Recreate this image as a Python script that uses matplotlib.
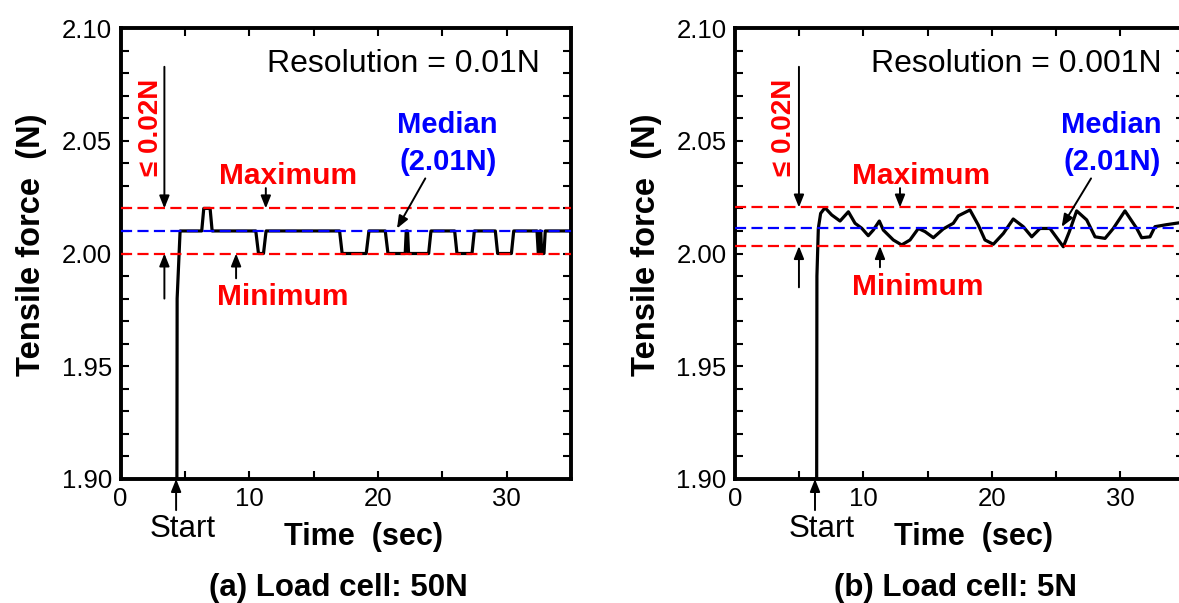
import matplotlib.pyplot as plt
from matplotlib.ticker import MultipleLocator, FormatStrFormatter

plt.rcParams['font.family'] = ['Liberation Sans', 'DejaVu Sans']

# (a) Load cell 50N, resolution 0.01N -> stepwise readout
time_a = [4.37, 4.40, 4.63, 6.31, 6.47, 6.96, 7.12, 10.51, 10.72, 11.11, 11.31,
          17.02, 17.22, 19.09, 19.30, 20.57, 20.78, 22.12, 22.20, 22.30, 22.38,
          23.94, 24.12, 25.96, 26.14, 27.31, 27.49, 29.12, 29.30, 30.37, 30.55,
          32.36, 32.46, 32.55, 32.60, 32.65, 32.72, 32.90, 33.00, 35.0]
force_a = [1.85, 1.98, 2.01, 2.01, 2.02, 2.02, 2.01, 2.01, 2.00, 2.00, 2.01,
           2.01, 2.00, 2.00, 2.01, 2.01, 2.00, 2.00, 2.01, 2.01, 2.00,
           2.00, 2.01, 2.01, 2.00, 2.00, 2.01, 2.01, 2.00, 2.00, 2.01,
           2.01, 2.00, 2.00, 2.01, 2.01, 2.00, 2.00, 2.01, 2.01]
max_a, median_a, min_a = 2.02, 2.01, 2.00

# (b) Load cell 5N, resolution 0.001N -> smooth-ish readout
time_b = [6.35, 6.38, 6.49, 6.67, 7.01, 7.53, 8.18, 8.83, 9.35, 9.87, 10.38,
          10.77, 11.24, 11.55, 12.33, 12.98, 13.63, 14.28, 14.80, 15.45, 16.22,
          17.00, 17.39, 18.30, 18.95, 19.47, 20.12, 20.90, 21.67, 22.45, 23.11,
          23.75, 24.53, 25.57, 26.04, 26.61, 27.39, 28.04, 28.82, 29.46, 30.37,
          31.29, 31.67, 32.32, 32.71, 33.62, 34.58, 35.0]
force_b = [1.85, 1.99, 2.0112, 2.0178, 2.0203, 2.0171, 2.0144, 2.0185, 2.0134, 2.0112, 2.0079,
           2.0104, 2.0144, 2.0104, 2.0060, 2.0038, 2.0060, 2.0111, 2.0097, 2.0070, 2.0109,
           2.0134, 2.0167, 2.0193, 2.0126, 2.0060, 2.0041, 2.0089, 2.0153, 2.0119, 2.0074,
           2.0111, 2.0111, 2.0030, 2.0097, 2.0189, 2.0149, 2.0074, 2.0067, 2.0111, 2.0189,
           2.0111, 2.0070, 2.0074, 2.0119, 2.0128, 2.0136, 2.0136]
max_b, median_b, min_b = 2.0204, 2.0111, 2.0033

W, H = 1179, 603
RED = '#ff0000'
BLUE = '#0000ff'
ARROW = dict(arrowstyle='-|>,head_length=0.75,head_width=0.3', color='k',
             lw=1.4, shrinkA=0, shrinkB=0, mutation_scale=10)


def draw_panel(ax, t, f, fmax, fmed, fmin, res_text, pos):
    ax.plot(t, f, color='k', lw=2.3, zorder=2)
    for y, c in ((fmax, RED), (fmed, BLUE), (fmin, RED)):
        ax.axhline(y, color=c, lw=1.6, dashes=(5, 2.4), zorder=3)

    ax.set_xlim(0, 35)
    ax.set_ylim(1.90, 2.10)
    ax.xaxis.set_major_locator(MultipleLocator(10))
    ax.xaxis.set_minor_locator(MultipleLocator(5))
    ax.yaxis.set_major_locator(MultipleLocator(0.05))
    ax.yaxis.set_minor_locator(MultipleLocator(0.01))
    ax.yaxis.set_major_formatter(FormatStrFormatter('%.2f'))
    ax.tick_params(which='both', direction='in', top=True, right=True,
                   length=6, width=1.5, labelsize=18.5)
    ax.tick_params(axis='x', pad=6)
    ax.tick_params(axis='y', pad=6)
    for s in ax.spines.values():
        s.set_linewidth(2.8)

    ax.text(pos['res_x'], 2.0805, res_text, ha='right', va='baseline', fontsize=23)

    # <= 0.02N double arrow
    lx = pos['range_x']
    ax.annotate('', xy=(lx, fmax), xytext=(lx, 2.0828), arrowprops=ARROW, zorder=5)
    ax.annotate('', xy=(lx, fmin), xytext=(lx, pos['range_bot']), arrowprops=ARROW, zorder=5)
    ax.text(pos['range_tx'], 2.056, '\u2264 0.02N', rotation=90, color=RED,
            fontweight='bold', fontsize=20, ha='center', va='center')

    ax.text(pos['max_tx'], 2.0306, 'Maximum', color=RED, fontweight='bold',
            fontsize=21.5, ha='center', va='baseline')
    ax.annotate('', xy=(pos['max_ax'], fmax), xytext=(pos['max_ax'], 2.029),
                arrowprops=ARROW, zorder=5)
    ax.text(pos['min_tx'], pos['min_ty'], 'Minimum', color=RED, fontweight='bold',
            fontsize=21.5, ha='center', va='baseline')
    ax.annotate('', xy=(pos['min_ax'], fmin), xytext=(pos['min_ax'], pos['min_tail']),
                arrowprops=ARROW, zorder=5)

    ax.text(pos['med_tx'], 2.0534, 'Median', color=BLUE, fontweight='bold',
            fontsize=21, ha='center', va='baseline')
    ax.text(pos['med_tx'] + 0.1, 2.0372, '(2.01N)', color=BLUE, fontweight='bold',
            fontsize=21, ha='center', va='baseline')
    ax.annotate('', xy=pos['med_tip'], xytext=pos['med_tail'], arrowprops=ARROW, zorder=5)

    # start marker below the axis
    ax.annotate('', xy=(pos['start_x'], 0), xytext=(pos['start_x'], -0.069),
                xycoords=('data', 'axes fraction'), textcoords=('data', 'axes fraction'),
                arrowprops=ARROW, annotation_clip=False)
    ax.text(pos['start_tx'], -0.129, 'Start', transform=ax.get_xaxis_transform(),
            ha='center', va='baseline', fontsize=22.5)


fig = plt.figure(figsize=(W / 100, H / 100), dpi=100)
ax1 = fig.add_axes([120.5 / W, 1 - 479 / H, 450.5 / W, 451 / H])
ax2 = fig.add_axes([735 / W, 1 - 479 / H, 449.4 / W, 451 / H])

draw_panel(ax1, time_a, force_a, max_a, median_a, min_a, 'Resolution = 0.01N',
           dict(res_x=32.62, range_x=3.41, range_bot=1.980, range_tx=2.37,
                max_tx=13.02, max_ax=11.29, min_tx=12.64, min_ax=8.98,
                min_ty=1.977, min_tail=1.989,
                med_tx=25.39, med_tip=(21.48, 2.0111), med_tail=(23.68, 2.0333),
                start_x=4.32, start_tx=4.86))
draw_panel(ax2, time_b, force_b, max_b, median_b, min_b, 'Resolution = 0.001N',
           dict(res_x=33.23, range_x=4.98, range_bot=1.985, range_tx=3.82,
                max_tx=14.49, max_ax=12.85, min_tx=14.21, min_ax=11.29,
                min_ty=1.9815, min_tail=1.9939,
                med_tx=29.28, med_tip=(25.44, 2.0118), med_tail=(27.73, 2.0333),
                start_x=6.23, start_tx=6.74))

for x in (32, 647):
    fig.text(x / W, 1 - 245 / H, 'Tensile force  (N)', rotation=90, ha='center',
             va='center', fontsize=23.5, fontweight='bold')

fig.text(363 / W, 1 - 545 / H, 'Time  (sec)', ha='center', va='baseline',
         fontsize=22, fontweight='bold')
fig.text(974 / W, 1 - 545 / H, 'Time  (sec)', ha='center', va='baseline',
         fontsize=22, fontweight='bold')
fig.text(338 / W, 1 - 596 / H, '(a) Load cell: 50N', ha='center', va='baseline',
         fontsize=22.5, fontweight='bold')
fig.text(956 / W, 1 - 596 / H, '(b) Load cell: 5N', ha='center', va='baseline',
         fontsize=22.5, fontweight='bold')

fig.savefig('out.png', dpi=100)
